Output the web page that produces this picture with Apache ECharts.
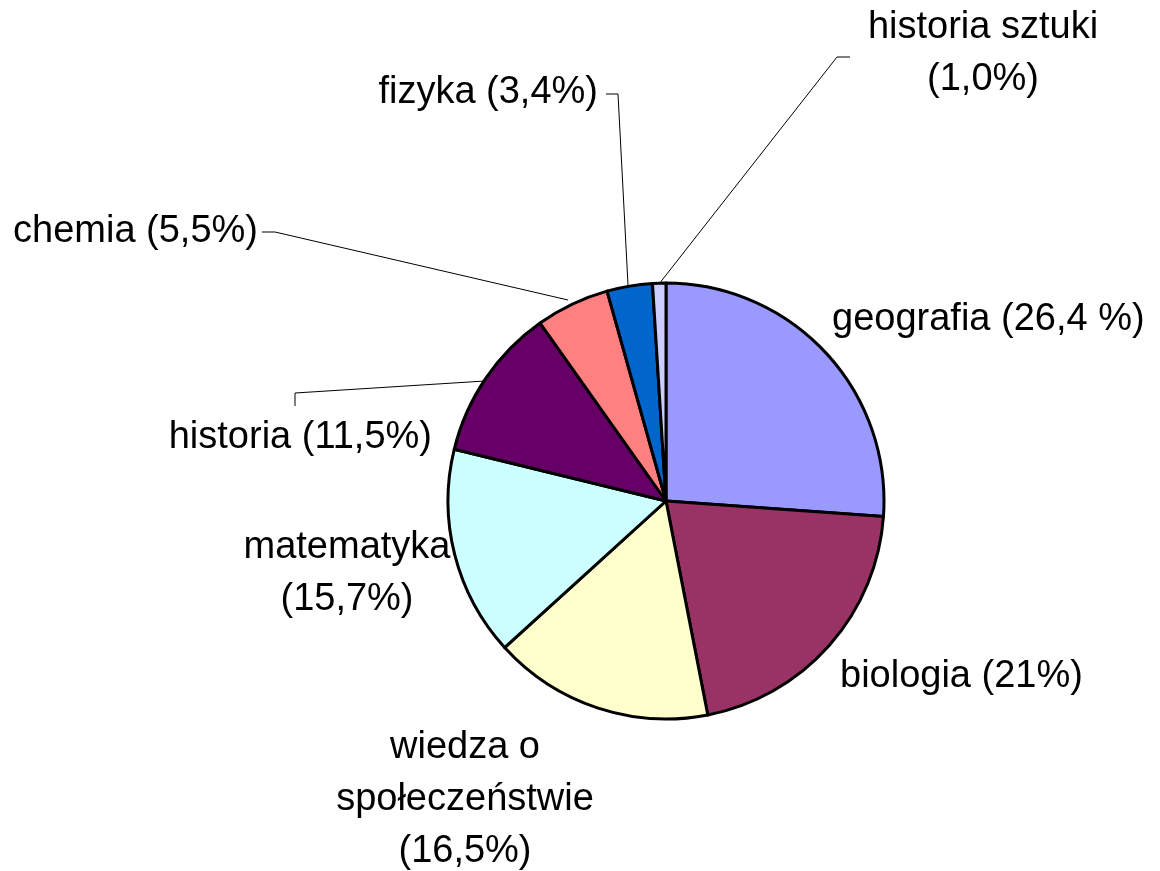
<html>
<head>
<meta charset="UTF-8">
<script src="https://cdn.jsdelivr.net/npm/echarts@6/dist/echarts.min.js"></script>
</head>
<body style="margin:0;background:#fff">
<div id="pieEcharts" style="width:1160px;height:871px"></div>
<script>
// dane
var subjects = ['geografia', 'biologia', 'wiedza o społeczeństwie', 'matematyka', 'historia', 'chemia', 'fizyka', 'historia sztuki'];
var shares = [26.4, 21, 16.5, 15.7, 11.5, 5.5, 3.4, 1.0];
var labelTexts = ['geografia (26,4 %)', 'biologia (21%)', 'wiedza o\nspołeczeństwie\n(16,5%)', 'matematyka\n(15,7%)', 'historia (11,5%)', 'chemia (5,5%)', 'fizyka (3,4%)', 'historia sztuki\n(1,0%)'];
var colors = ['#9999FF', '#993366', '#FFFFCC', '#CCFFFF', '#660066', '#FF8080', '#0066CC', '#CCCCFF'];

// rozmieszczenie etykiet (x, y, wyrównanie, punkty linii odniesienia)
var labelPos = [
	{ x: 832, y: 320, align: 'left' },
	{ x: 840, y: 677, align: 'left' },
	{ x: 465, y: 800, align: 'center' },
	{ x: 347, y: 574, align: 'center' },
	{ x: 432, y: 438, align: 'right', line: [[295, 393], [295, 406]] },
	{ x: 258, y: 232, align: 'right', line: [[275, 232], [262, 232]] },
	{ x: 598, y: 93, align: 'right', line: [[618, 94], [606, 94]] },
	{ x: 983, y: 54, align: 'center', line: [[837, 57], [850, 57]] }
];
var lineStart = [null, null, null, null, [485, 381], [568, 300], [628, 285], [659, 284]];

var pieEcharts = echarts.init(document.getElementById('pieEcharts'));

var data = [];
for (var i = 0; i < subjects.length; i++) {
	data.push({
		name: subjects[i],
		value: shares[i],
		itemStyle: { color: colors[i] },
		labelLine: { show: !!labelPos[i].line }
	});
}

var option = {
	animation: false,
	series: [{
		type: 'pie',
		center: [666, 501],
		radius: 218,
		startAngle: 90,
		clockwise: true,
		avoidLabelOverlap: false,
		itemStyle: { borderColor: '#000', borderWidth: 3 },
		label: {
			show: true,
			formatter: function (p) { return labelTexts[p.dataIndex]; },
			fontFamily: 'Liberation Sans, Arial, sans-serif',
			fontSize: 38,
			lineHeight: 52,
			color: '#000',
			align: 'center'
		},
		labelLine: {
			lineStyle: { color: '#000', width: 1 },
			length: 10,
			length2: 10
		},
		labelLayout: function (params) {
			var p = labelPos[params.dataIndex];
			var res = { x: p.x, y: p.y, align: p.align, verticalAlign: 'middle' };
			if (p.line) {
				res.labelLinePoints = [lineStart[params.dataIndex], p.line[0], p.line[1]];
			}
			return res;
		},
		data: data
	}]
};
pieEcharts.setOption(option);
</script>
</body>
</html>
